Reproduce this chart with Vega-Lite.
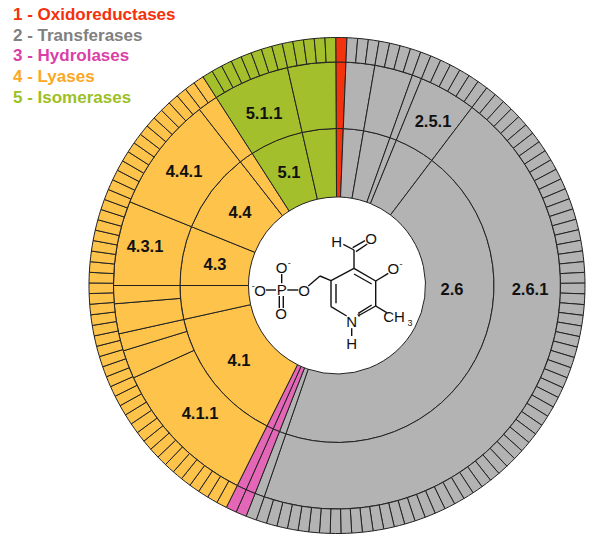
{"$schema":"https://vega.github.io/schema/vega-lite/v6.json","width":600,"height":553,"autosize":"none","padding":0,"background":"white","config":{"view":{"stroke":null},"font":"Liberation Sans"},"datasets":{"sectors":[
{"g":"1","a":-0.3,"b":2.3,"r0":0,"r1":1},{"g":"2","a":2.3,"b":9.77,"r0":0,"r1":1},{"g":"2","a":9.77,"b":19.73,"r0":0,"r1":1},{"g":"2","a":19.73,"b":22.22,"r0":0,"r1":1},{"g":"2","a":22.22,"b":37.16,"r0":0,"r1":1},{"g":"2","a":37.16,"b":199.01,"r0":0,"r1":1},{"g":"2","a":199.01,"b":201.5,"r0":0,"r1":1},{"g":"3","a":201.5,"b":204,"r0":0,"r1":1},{"g":"3","a":204,"b":206.5,"r0":0,"r1":1},{"g":"4","a":206.5,"b":257.5,"r0":0,"r1":1},{"g":"4","a":257.5,"b":270,"r0":0,"r1":1},{"g":"4","a":270,"b":292,"r0":0,"r1":1},{"g":"4","a":292,"b":322,"r0":0,"r1":1},{"g":"4","a":322,"b":327.3,"r0":0,"r1":1},{"g":"5","a":327.3,"b":347.2,"r0":0,"r1":1},{"g":"5","a":347.2,"b":359.7,"r0":0,"r1":1},
{"g":"1","a":-0.3,"b":2.3,"r0":1,"r1":2},{"g":"2","a":2.3,"b":9.77,"r0":1,"r1":2},{"g":"2","a":9.77,"b":19.73,"r0":1,"r1":2},{"g":"2","a":19.73,"b":22.22,"r0":1,"r1":2},{"g":"2","a":22.22,"b":37.16,"r0":1,"r1":2},{"g":"2","a":37.16,"b":199.01,"r0":1,"r1":2},{"g":"2","a":199.01,"b":201.5,"r0":1,"r1":2},{"g":"3","a":201.5,"b":204,"r0":1,"r1":2},{"g":"3","a":204,"b":206.5,"r0":1,"r1":2},{"g":"4","a":206.5,"b":245.6,"r0":1,"r1":2},{"g":"4","a":245.6,"b":253,"r0":1,"r1":2},{"g":"4","a":253,"b":257.5,"r0":1,"r1":2},{"g":"4","a":257.5,"b":265.3,"r0":1,"r1":2},{"g":"4","a":265.3,"b":270,"r0":1,"r1":2},{"g":"4","a":270,"b":292,"r0":1,"r1":2},{"g":"4","a":292,"b":322,"r0":1,"r1":2},{"g":"4","a":322,"b":327.3,"r0":1,"r1":2},{"g":"5","a":327.3,"b":347.2,"r0":1,"r1":2},{"g":"5","a":347.2,"b":359.7,"r0":1,"r1":2},
{"g":"1","a":-0.3,"b":2.3,"r0":2,"r1":3},
{"g":"2","a":2.3,"b":4.79,"r0":2,"r1":3},{"g":"2","a":4.79,"b":7.28,"r0":2,"r1":3},{"g":"2","a":7.28,"b":9.77,"r0":2,"r1":3},{"g":"2","a":9.77,"b":12.26,"r0":2,"r1":3},{"g":"2","a":12.26,"b":14.75,"r0":2,"r1":3},{"g":"2","a":14.75,"b":17.24,"r0":2,"r1":3},{"g":"2","a":17.24,"b":19.73,"r0":2,"r1":3},{"g":"2","a":19.73,"b":22.22,"r0":2,"r1":3},{"g":"2","a":22.22,"b":24.71,"r0":2,"r1":3},{"g":"2","a":24.71,"b":27.2,"r0":2,"r1":3},
{"g":"2","a":27.2,"b":29.69,"r0":2,"r1":3},{"g":"2","a":29.69,"b":32.18,"r0":2,"r1":3},{"g":"2","a":32.18,"b":34.67,"r0":2,"r1":3},{"g":"2","a":34.67,"b":37.16,"r0":2,"r1":3},{"g":"2","a":37.16,"b":39.65,"r0":2,"r1":3},{"g":"2","a":39.65,"b":42.14,"r0":2,"r1":3},{"g":"2","a":42.14,"b":44.63,"r0":2,"r1":3},{"g":"2","a":44.63,"b":47.12,"r0":2,"r1":3},{"g":"2","a":47.12,"b":49.61,"r0":2,"r1":3},{"g":"2","a":49.61,"b":52.1,"r0":2,"r1":3},
{"g":"2","a":52.1,"b":54.59,"r0":2,"r1":3},{"g":"2","a":54.59,"b":57.08,"r0":2,"r1":3},{"g":"2","a":57.08,"b":59.57,"r0":2,"r1":3},{"g":"2","a":59.57,"b":62.06,"r0":2,"r1":3},{"g":"2","a":62.06,"b":64.55,"r0":2,"r1":3},{"g":"2","a":64.55,"b":67.04,"r0":2,"r1":3},{"g":"2","a":67.04,"b":69.53,"r0":2,"r1":3},{"g":"2","a":69.53,"b":72.02,"r0":2,"r1":3},{"g":"2","a":72.02,"b":74.51,"r0":2,"r1":3},{"g":"2","a":74.51,"b":77,"r0":2,"r1":3},
{"g":"2","a":77,"b":79.49,"r0":2,"r1":3},{"g":"2","a":79.49,"b":81.98,"r0":2,"r1":3},{"g":"2","a":81.98,"b":84.47,"r0":2,"r1":3},{"g":"2","a":84.47,"b":86.96,"r0":2,"r1":3},{"g":"2","a":86.96,"b":89.45,"r0":2,"r1":3},{"g":"2","a":89.45,"b":91.94,"r0":2,"r1":3},{"g":"2","a":91.94,"b":94.43,"r0":2,"r1":3},{"g":"2","a":94.43,"b":96.92,"r0":2,"r1":3},{"g":"2","a":96.92,"b":99.41,"r0":2,"r1":3},{"g":"2","a":99.41,"b":101.9,"r0":2,"r1":3},
{"g":"2","a":101.9,"b":104.39,"r0":2,"r1":3},{"g":"2","a":104.39,"b":106.88,"r0":2,"r1":3},{"g":"2","a":106.88,"b":109.37,"r0":2,"r1":3},{"g":"2","a":109.37,"b":111.86,"r0":2,"r1":3},{"g":"2","a":111.86,"b":114.35,"r0":2,"r1":3},{"g":"2","a":114.35,"b":116.84,"r0":2,"r1":3},{"g":"2","a":116.84,"b":119.33,"r0":2,"r1":3},{"g":"2","a":119.33,"b":121.82,"r0":2,"r1":3},{"g":"2","a":121.82,"b":124.31,"r0":2,"r1":3},{"g":"2","a":124.31,"b":126.8,"r0":2,"r1":3},
{"g":"2","a":126.8,"b":129.29,"r0":2,"r1":3},{"g":"2","a":129.29,"b":131.78,"r0":2,"r1":3},{"g":"2","a":131.78,"b":134.27,"r0":2,"r1":3},{"g":"2","a":134.27,"b":136.76,"r0":2,"r1":3},{"g":"2","a":136.76,"b":139.25,"r0":2,"r1":3},{"g":"2","a":139.25,"b":141.74,"r0":2,"r1":3},{"g":"2","a":141.74,"b":144.23,"r0":2,"r1":3},{"g":"2","a":144.23,"b":146.72,"r0":2,"r1":3},{"g":"2","a":146.72,"b":149.21,"r0":2,"r1":3},{"g":"2","a":149.21,"b":151.7,"r0":2,"r1":3},
{"g":"2","a":151.7,"b":154.19,"r0":2,"r1":3},{"g":"2","a":154.19,"b":156.68,"r0":2,"r1":3},{"g":"2","a":156.68,"b":159.17,"r0":2,"r1":3},{"g":"2","a":159.17,"b":161.66,"r0":2,"r1":3},{"g":"2","a":161.66,"b":164.15,"r0":2,"r1":3},{"g":"2","a":164.15,"b":166.64,"r0":2,"r1":3},{"g":"2","a":166.64,"b":169.13,"r0":2,"r1":3},{"g":"2","a":169.13,"b":171.62,"r0":2,"r1":3},{"g":"2","a":171.62,"b":174.11,"r0":2,"r1":3},{"g":"2","a":174.11,"b":176.6,"r0":2,"r1":3},
{"g":"2","a":176.6,"b":179.09,"r0":2,"r1":3},{"g":"2","a":179.09,"b":181.58,"r0":2,"r1":3},{"g":"2","a":181.58,"b":184.07,"r0":2,"r1":3},{"g":"2","a":184.07,"b":186.56,"r0":2,"r1":3},{"g":"2","a":186.56,"b":189.05,"r0":2,"r1":3},{"g":"2","a":189.05,"b":191.54,"r0":2,"r1":3},{"g":"2","a":191.54,"b":194.03,"r0":2,"r1":3},{"g":"2","a":194.03,"b":196.52,"r0":2,"r1":3},{"g":"2","a":196.52,"b":199.01,"r0":2,"r1":3},{"g":"2","a":199.01,"b":201.5,"r0":2,"r1":3},
{"g":"3","a":201.5,"b":204,"r0":2,"r1":3},{"g":"3","a":204,"b":206.5,"r0":2,"r1":3},
{"g":"4","a":206.5,"b":208.97,"r0":2,"r1":3},{"g":"4","a":208.97,"b":211.43,"r0":2,"r1":3},{"g":"4","a":211.43,"b":213.9,"r0":2,"r1":3},{"g":"4","a":213.9,"b":216.36,"r0":2,"r1":3},{"g":"4","a":216.36,"b":218.83,"r0":2,"r1":3},{"g":"4","a":218.83,"b":221.29,"r0":2,"r1":3},{"g":"4","a":221.29,"b":223.76,"r0":2,"r1":3},{"g":"4","a":223.76,"b":226.22,"r0":2,"r1":3},{"g":"4","a":226.22,"b":228.69,"r0":2,"r1":3},{"g":"4","a":228.69,"b":231.15,"r0":2,"r1":3},
{"g":"4","a":231.15,"b":233.62,"r0":2,"r1":3},{"g":"4","a":233.62,"b":236.08,"r0":2,"r1":3},{"g":"4","a":236.08,"b":238.55,"r0":2,"r1":3},{"g":"4","a":238.55,"b":241.01,"r0":2,"r1":3},{"g":"4","a":241.01,"b":243.48,"r0":2,"r1":3},{"g":"4","a":243.48,"b":245.94,"r0":2,"r1":3},{"g":"4","a":245.94,"b":248.41,"r0":2,"r1":3},{"g":"4","a":248.41,"b":250.87,"r0":2,"r1":3},{"g":"4","a":250.87,"b":253.34,"r0":2,"r1":3},{"g":"4","a":253.34,"b":255.8,"r0":2,"r1":3},
{"g":"4","a":255.8,"b":258.27,"r0":2,"r1":3},{"g":"4","a":258.27,"b":260.73,"r0":2,"r1":3},{"g":"4","a":260.73,"b":263.2,"r0":2,"r1":3},{"g":"4","a":263.2,"b":265.66,"r0":2,"r1":3},{"g":"4","a":265.66,"b":268.13,"r0":2,"r1":3},{"g":"4","a":268.13,"b":270.59,"r0":2,"r1":3},{"g":"4","a":270.59,"b":273.06,"r0":2,"r1":3},{"g":"4","a":273.06,"b":275.52,"r0":2,"r1":3},{"g":"4","a":275.52,"b":277.99,"r0":2,"r1":3},{"g":"4","a":277.99,"b":280.45,"r0":2,"r1":3},
{"g":"4","a":280.45,"b":282.92,"r0":2,"r1":3},{"g":"4","a":282.92,"b":285.38,"r0":2,"r1":3},{"g":"4","a":285.38,"b":287.85,"r0":2,"r1":3},{"g":"4","a":287.85,"b":290.31,"r0":2,"r1":3},{"g":"4","a":290.31,"b":292.78,"r0":2,"r1":3},{"g":"4","a":292.78,"b":295.24,"r0":2,"r1":3},{"g":"4","a":295.24,"b":297.71,"r0":2,"r1":3},{"g":"4","a":297.71,"b":300.17,"r0":2,"r1":3},{"g":"4","a":300.17,"b":302.64,"r0":2,"r1":3},{"g":"4","a":302.64,"b":305.1,"r0":2,"r1":3},
{"g":"4","a":305.1,"b":307.57,"r0":2,"r1":3},{"g":"4","a":307.57,"b":310.03,"r0":2,"r1":3},{"g":"4","a":310.03,"b":312.5,"r0":2,"r1":3},{"g":"4","a":312.5,"b":314.96,"r0":2,"r1":3},{"g":"4","a":314.96,"b":317.43,"r0":2,"r1":3},{"g":"4","a":317.43,"b":319.89,"r0":2,"r1":3},{"g":"4","a":319.89,"b":322.36,"r0":2,"r1":3},{"g":"4","a":322.36,"b":324.82,"r0":2,"r1":3},{"g":"4","a":324.82,"b":327.3,"r0":2,"r1":3},
{"g":"5","a":327.3,"b":329.79,"r0":2,"r1":3},{"g":"5","a":329.79,"b":332.28,"r0":2,"r1":3},{"g":"5","a":332.28,"b":334.78,"r0":2,"r1":3},{"g":"5","a":334.78,"b":337.27,"r0":2,"r1":3},{"g":"5","a":337.27,"b":339.76,"r0":2,"r1":3},{"g":"5","a":339.76,"b":342.25,"r0":2,"r1":3},{"g":"5","a":342.25,"b":344.75,"r0":2,"r1":3},{"g":"5","a":344.75,"b":347.24,"r0":2,"r1":3},{"g":"5","a":347.24,"b":349.73,"r0":2,"r1":3},{"g":"5","a":349.73,"b":352.22,"r0":2,"r1":3},{"g":"5","a":352.22,"b":354.72,"r0":2,"r1":3},{"g":"5","a":354.72,"b":357.21,"r0":2,"r1":3},{"g":"5","a":357.21,"b":359.7,"r0":2,"r1":3}
]},"layer":[
{"data":{"name":"sectors"},"mark":{"type":"arc","stroke":"#222222","strokeWidth":1},"encoding":{"x":{"datum":337,"type":"quantitative","axis":null,"scale":{"domain":[0,600],"nice":false,"zero":false}},"y":{"datum":285.5,"type":"quantitative","axis":null,"scale":{"domain":[553,0],"nice":false,"zero":false}},"theta":{"field":"a","type":"quantitative","stack":null,"scale":{"domain":[0,360],"range":[0,6.283185]}},"theta2":{"field":"b"},"radius":{"field":"r0","type":"quantitative","scale":{"type":"linear","domain":[0,1,2,3],"range":[88.5,157,223.5,248],"zero":false,"nice":false}},"radius2":{"field":"r1"},"color":{"field":"g","type":"nominal","legend":null,"scale":{"domain":["1","2","3","4","5"],"range":["#F2330D","#B3B3B3","#E466B6","#FDC34B","#A3BF2B"]}}}},
{"data":{"values":[{"t":"5.1.1","x":264,"y":114},{"t":"5.1","x":289,"y":172.5},{"t":"2.5.1","x":433,"y":122},{"t":"4.4.1","x":184,"y":171.5},{"t":"4.3.1","x":145,"y":247},{"t":"4.4","x":240,"y":212.5},{"t":"4.3","x":215,"y":265},{"t":"4.1","x":239,"y":361},{"t":"4.1.1","x":200,"y":414},{"t":"2.6","x":452,"y":290},{"t":"2.6.1","x":530,"y":290}]},"mark":{"type":"text","font":"Liberation Sans","fontWeight":"bold","fontSize":16.5,"color":"#111111","baseline":"middle","align":"center"},"encoding":{"x":{"field":"x","type":"quantitative"},"y":{"field":"y","type":"quantitative"},"text":{"field":"t"}}},
{"data":{"values":[{"t":"1 - Oxidoreductases","x":13,"y":15,"k":"1"},{"t":"2 - Transferases","x":13,"y":35.5,"k":"2"},{"t":"3 - Hydrolases","x":13,"y":56,"k":"3"},{"t":"4 - Lyases","x":13,"y":77,"k":"4"},{"t":"5 - Isomerases","x":13,"y":97.5,"k":"5"}]},"mark":{"type":"text","font":"Liberation Sans","fontWeight":"bold","fontSize":17,"baseline":"middle","align":"left"},"encoding":{"x":{"field":"x","type":"quantitative"},"y":{"field":"y","type":"quantitative"},"text":{"field":"t"},"fill":{"field":"k","type":"nominal","legend":null,"scale":{"domain":["1","2","3","4","5"],"range":["#F5300C","#808080","#DA3FA8","#FDA825","#9DBF25"]}}}},
{"data":{"values":[{"x":281.7,"y":274,"x2":281.7,"y2":283.3},{"x":266,"y":290,"x2":276,"y2":290},{"x":287.3,"y":290,"x2":298.3,"y2":290},{"x":279.3,"y":296,"x2":279.3,"y2":308},{"x":283.3,"y":296,"x2":283.3,"y2":308},{"x":308.3,"y":286,"x2":320,"y2":276},{"x":320,"y":276,"x2":331,"y2":280.7},{"x":331,"y":280.7,"x2":354,"y2":268.3},{"x":354,"y":268.3,"x2":375.7,"y2":281},{"x":375.7,"y":281,"x2":375.7,"y2":306},{"x":375.7,"y":306,"x2":358,"y2":316},{"x":331,"y":306.7,"x2":346.7,"y2":316},{"x":331,"y":280.7,"x2":331,"y2":306.7},{"x":336,"y":284,"x2":336,"y2":303.3},{"x":354,"y":274,"x2":371.7,"y2":284},{"x":371.7,"y":305,"x2":358.3,"y2":313.3},{"x":354,"y":268.3,"x2":354,"y2":250},{"x":354,"y":250,"x2":343.3,"y2":244.3},{"x":352.7,"y":247.7,"x2":365,"y2":240.7},{"x":356,"y":251.7,"x2":367.3,"y2":244},{"x":375.7,"y":281,"x2":388.3,"y2":273.3},{"x":375.7,"y":306,"x2":386.7,"y2":312.7},{"x":351.7,"y":328.3,"x2":351.7,"y2":336}]},"mark":{"type":"rule","color":"#111111","strokeWidth":1.4},"encoding":{"x":{"field":"x","type":"quantitative"},"y":{"field":"y","type":"quantitative"},"x2":{"field":"x2"},"y2":{"field":"y2"}}},
{"data":{"values":[{"t":"O","x":281.7,"y":268.3},{"t":"P","x":281.7,"y":289.5},{"t":"O","x":260,"y":290.7},{"t":"O","x":304,"y":290.7},{"t":"O","x":281,"y":314.3},{"t":"H","x":336.7,"y":241.7},{"t":"O","x":371,"y":239.3},{"t":"O","x":393.3,"y":269.3},{"t":"N","x":351.7,"y":321.7},{"t":"H","x":351.7,"y":344.3},{"t":"CH","x":394,"y":317.3}]},"mark":{"type":"text","font":"Liberation Sans","fontSize":15,"color":"#111111","baseline":"middle","align":"center"},"encoding":{"x":{"field":"x","type":"quantitative"},"y":{"field":"y","type":"quantitative"},"text":{"field":"t"}}},
{"data":{"values":[{"t":"-","x":289.3,"y":263.3},{"t":"-","x":253.3,"y":286},{"t":"-","x":401,"y":264},{"t":"+","x":359,"y":315},{"t":"3","x":410,"y":322.7}]},"mark":{"type":"text","font":"Liberation Sans","fontSize":9,"color":"#222222","baseline":"middle","align":"center"},"encoding":{"x":{"field":"x","type":"quantitative"},"y":{"field":"y","type":"quantitative"},"text":{"field":"t"}}}
]}
